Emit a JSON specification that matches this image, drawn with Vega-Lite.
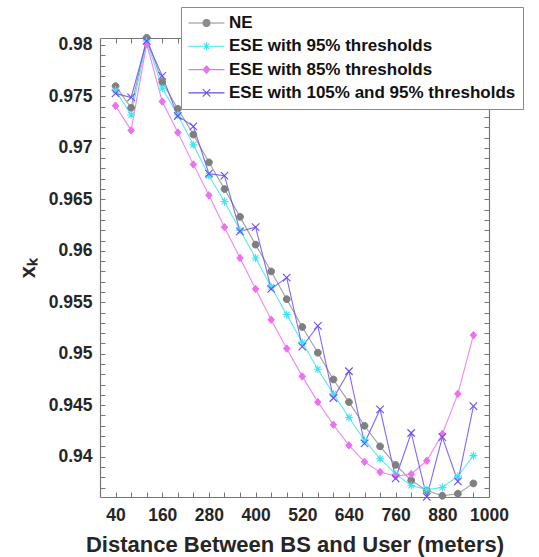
{
  "$schema": "https://vega.github.io/schema/vega-lite/v6.json",
  "width": 389,
  "height": 459,
  "autosize": "none",
  "padding": {"left": 100, "top": 38, "right": 50, "bottom": 60},
  "background": "white",
  "config": {
    "view": {"stroke": null},
    "font": "Liberation Sans",
    "axis": {
      "grid": false,
      "domainColor": "#777777",
      "domainWidth": 1.2,
      "tickColor": "#777777",
      "tickWidth": 1,
      "tickSize": -5,
      "labelFont": "Liberation Sans",
      "labelFontSize": 17.5,
      "labelFontWeight": "bold",
      "labelColor": "#262626",
      "titleFont": "Liberation Sans",
      "titleFontWeight": "bold",
      "titleColor": "#262626"
    }
  },
  "data": {
    "values": [
      {"d": 40, "NE": 0.9760, "ESE with 95% thresholds": 0.9756, "ESE with 85% thresholds": 0.9741, "ESE with 105% and 95% thresholds": 0.9753},
      {"d": 80, "NE": 0.9739, "ESE with 95% thresholds": 0.9732, "ESE with 85% thresholds": 0.9717, "ESE with 105% and 95% thresholds": 0.9749},
      {"d": 120, "NE": 0.9807, "ESE with 95% thresholds": 0.9804, "ESE with 85% thresholds": 0.9801, "ESE with 105% and 95% thresholds": 0.9804},
      {"d": 160, "NE": 0.9764, "ESE with 95% thresholds": 0.9758, "ESE with 85% thresholds": 0.9745, "ESE with 105% and 95% thresholds": 0.9770},
      {"d": 200, "NE": 0.9738, "ESE with 95% thresholds": 0.9732, "ESE with 85% thresholds": 0.9715, "ESE with 105% and 95% thresholds": 0.9731},
      {"d": 240, "NE": 0.9713, "ESE with 95% thresholds": 0.9703, "ESE with 85% thresholds": 0.9684, "ESE with 105% and 95% thresholds": 0.9721},
      {"d": 280, "NE": 0.9686, "ESE with 95% thresholds": 0.9673, "ESE with 85% thresholds": 0.9654, "ESE with 105% and 95% thresholds": 0.9675},
      {"d": 320, "NE": 0.9660, "ESE with 95% thresholds": 0.9648, "ESE with 85% thresholds": 0.9623, "ESE with 105% and 95% thresholds": 0.9673},
      {"d": 360, "NE": 0.9633, "ESE with 95% thresholds": 0.9620, "ESE with 85% thresholds": 0.9593, "ESE with 105% and 95% thresholds": 0.9619},
      {"d": 400, "NE": 0.9606, "ESE with 95% thresholds": 0.9593, "ESE with 85% thresholds": 0.9563, "ESE with 105% and 95% thresholds": 0.9623},
      {"d": 440, "NE": 0.9580, "ESE with 95% thresholds": 0.9565, "ESE with 85% thresholds": 0.9533, "ESE with 105% and 95% thresholds": 0.9563},
      {"d": 480, "NE": 0.9553, "ESE with 95% thresholds": 0.9538, "ESE with 85% thresholds": 0.9505, "ESE with 105% and 95% thresholds": 0.9574},
      {"d": 520, "NE": 0.9526, "ESE with 95% thresholds": 0.9511, "ESE with 85% thresholds": 0.9478, "ESE with 105% and 95% thresholds": 0.9507},
      {"d": 560, "NE": 0.9501, "ESE with 95% thresholds": 0.9485, "ESE with 85% thresholds": 0.9453, "ESE with 105% and 95% thresholds": 0.9527},
      {"d": 600, "NE": 0.9475, "ESE with 95% thresholds": 0.9461, "ESE with 85% thresholds": 0.9431, "ESE with 105% and 95% thresholds": 0.9457},
      {"d": 640, "NE": 0.9453, "ESE with 95% thresholds": 0.9438, "ESE with 85% thresholds": 0.9411, "ESE with 105% and 95% thresholds": 0.9483},
      {"d": 680, "NE": 0.9430, "ESE with 95% thresholds": 0.9416, "ESE with 85% thresholds": 0.9395, "ESE with 105% and 95% thresholds": 0.9413},
      {"d": 720, "NE": 0.9410, "ESE with 95% thresholds": 0.9398, "ESE with 85% thresholds": 0.9385, "ESE with 105% and 95% thresholds": 0.9446},
      {"d": 760, "NE": 0.9392, "ESE with 95% thresholds": 0.9383, "ESE with 85% thresholds": 0.9381, "ESE with 105% and 95% thresholds": 0.9379},
      {"d": 800, "NE": 0.9377, "ESE with 95% thresholds": 0.9372, "ESE with 85% thresholds": 0.9383, "ESE with 105% and 95% thresholds": 0.9423},
      {"d": 840, "NE": 0.9367, "ESE with 95% thresholds": 0.9368, "ESE with 85% thresholds": 0.9396, "ESE with 105% and 95% thresholds": 0.9361},
      {"d": 880, "NE": 0.9362, "ESE with 95% thresholds": 0.9370, "ESE with 85% thresholds": 0.9422, "ESE with 105% and 95% thresholds": 0.9419},
      {"d": 920, "NE": 0.9364, "ESE with 95% thresholds": 0.9381, "ESE with 85% thresholds": 0.9461, "ESE with 105% and 95% thresholds": 0.9376},
      {"d": 960, "NE": 0.9374, "ESE with 95% thresholds": 0.9401, "ESE with 85% thresholds": 0.9518, "ESE with 105% and 95% thresholds": 0.9449}
    ]
  },
  "transform": [
    {"fold": ["NE", "ESE with 95% thresholds", "ESE with 85% thresholds", "ESE with 105% and 95% thresholds"], "as": ["series", "v"]}
  ],
  "layer": [
    {
      "mark": {"type": "line", "strokeWidth": 1.1, "opacity": 0.85},
      "encoding": {
        "x": {
          "field": "d", "type": "quantitative",
          "scale": {"domain": [0, 1000], "nice": false, "zero": false},
          "axis": {
            "orient": "bottom",
            "values": [40, 80, 120, 160, 200, 240, 280, 320, 360, 400, 440, 480, 520, 560, 600, 640, 680, 720, 760, 800, 840, 880, 920, 960, 1000],
            "format": "d",
            "labelExpr": "(datum.value - 40) % 120 === 0 ? datum.label : ''",
            "labelPadding": 14.5,
            "labelFlush": false,
            "labelOverlap": false,
            "title": "Distance Between BS and User (meters)",
            "titleFontSize": 22,
            "titlePadding": 10
          }
        },
        "y": {
          "field": "v", "type": "quantitative",
          "scale": {"domain": [0.93608, 0.98068], "nice": false, "zero": false},
          "axis": {
            "orient": "left",
            "values": [0.937, 0.938, 0.939, 0.94, 0.941, 0.942, 0.943, 0.944, 0.945, 0.946, 0.947, 0.948, 0.949, 0.95, 0.951, 0.952, 0.953, 0.954, 0.955, 0.956, 0.957, 0.958, 0.959, 0.96, 0.961, 0.962, 0.963, 0.964, 0.965, 0.966, 0.967, 0.968, 0.969, 0.97, 0.971, 0.972, 0.973, 0.974, 0.975, 0.976, 0.977, 0.978, 0.979, 0.98],
            "labelExpr": "round(datum.value * 1000) % 5 === 0 ? format(datum.value, '~g') : ''",
            "labelPadding": 13,
            "labelFlush": false,
            "labelOverlap": false,
            "title": "xₖ",
            "titleFontSize": 22,
            "titlePadding": 9
          }
        },
        "color": {
          "field": "series", "type": "nominal",
          "scale": {
            "domain": ["NE", "ESE with 95% thresholds", "ESE with 85% thresholds", "ESE with 105% and 95% thresholds"],
            "range": ["#8c8c8c", "#3fe3f2", "#ec70f2", "#6b4df5"]
          },
          "legend": {
            "orient": "none",
            "legendX": 81,
            "legendY": -31,
            "title": null,
            "strokeColor": "#8a8a8a",
            "fillColor": "white",
            "padding": 7.5,
            "symbolSize": 100,
            "symbolStrokeWidth": 1.1,
            "symbolOpacity": 1,
            "symbolOffset": 9.5,
            "labelOffset": 14,
            "rowPadding": 5.3,
            "labelFont": "Liberation Sans",
            "labelFontSize": 17,
            "labelFontWeight": "bold",
            "labelColor": "#111111",
            "labelLimit": 400
          }
        }
      }
    },
    {
      "transform": [{"filter": {"field": "d", "equal": 40}}],
      "mark": {"type": "point", "filled": true, "size": 100, "strokeWidth": 1.1, "opacity": 0},
      "encoding": {
        "x": {"field": "d", "type": "quantitative", "axis": null},
        "y": {"field": "v", "type": "quantitative", "axis": null},
        "color": {"field": "series", "type": "nominal"},
        "stroke": {
          "field": "series", "type": "nominal",
          "scale": {
            "domain": ["NE", "ESE with 95% thresholds", "ESE with 85% thresholds", "ESE with 105% and 95% thresholds"],
            "range": ["#9a9a9a", "#3fe3f2", "#ec70f2", "#6b4df5"]
          },
          "legend": null
        },
        "shape": {
          "field": "series", "type": "nominal",
          "scale": {
            "domain": ["NE", "ESE with 95% thresholds", "ESE with 85% thresholds", "ESE with 105% and 95% thresholds"],
            "range": [
              "M-3.6,0L3.6,0M-0.68,0A0.68,0.68,0,1,0,0.68,0A0.68,0.68,0,1,0,-0.68,0Z",
              "M-3.6,0L3.6,0M-0.8,0L0.8,0M0,-0.8L0,0.8M-0.57,-0.57L0.57,0.57M-0.57,0.57L0.57,-0.57",
              "M-3.6,0L3.6,0M0,-0.75L0.65,0L0,0.75L-0.65,0Z",
              "M-3.6,0L3.6,0M-0.75,-0.75L0.75,0.75M-0.75,0.75L0.75,-0.75"
            ]
          },
          "legend": null
        }
      }
    },
    {
      "transform": [{"filter": {"field": "series", "equal": "NE"}}],
      "mark": {"type": "point", "shape": "M-0.68,0A0.68,0.68,0,1,0,0.68,0A0.68,0.68,0,1,0,-0.68,0Z", "filled": true, "fill": "#7f7f7f", "stroke": "#7f7f7f", "size": 100, "strokeWidth": 1, "opacity": 1},
      "encoding": {
        "x": {
          "field": "d", "type": "quantitative",
          "axis": {
            "orient": "top", "labels": false, "title": null,
            "values": [40, 80, 120, 160, 200, 240, 280, 320, 360, 400, 440, 480, 520, 560, 600, 640, 680, 720, 760, 800, 840, 880, 920, 960, 1000]
          }
        },
        "y": {
          "field": "v", "type": "quantitative",
          "axis": {
            "orient": "right", "labels": false, "title": null,
            "values": [0.937, 0.938, 0.939, 0.94, 0.941, 0.942, 0.943, 0.944, 0.945, 0.946, 0.947, 0.948, 0.949, 0.95, 0.951, 0.952, 0.953, 0.954, 0.955, 0.956, 0.957, 0.958, 0.959, 0.96, 0.961, 0.962, 0.963, 0.964, 0.965, 0.966, 0.967, 0.968, 0.969, 0.97, 0.971, 0.972, 0.973, 0.974, 0.975, 0.976, 0.977, 0.978, 0.979, 0.98]
          }
        }
      }
    },
    {
      "transform": [{"filter": {"field": "series", "equal": "ESE with 95% thresholds"}}],
      "mark": {"type": "point", "shape": "M-0.8,0L0.8,0M0,-0.8L0,0.8M-0.57,-0.57L0.57,0.57M-0.57,0.57L0.57,-0.57", "filled": false, "stroke": "#3fe3f2", "size": 100, "strokeWidth": 1.1, "opacity": 1},
      "encoding": {
        "x": {"field": "d", "type": "quantitative", "axis": null},
        "y": {"field": "v", "type": "quantitative", "axis": null}
      }
    },
    {
      "transform": [{"filter": {"field": "series", "equal": "ESE with 85% thresholds"}}],
      "mark": {"type": "point", "shape": "M0,-0.75L0.65,0L0,0.75L-0.65,0Z", "filled": true, "fill": "#ec70f2", "stroke": "#ec70f2", "size": 100, "strokeWidth": 1, "opacity": 1},
      "encoding": {
        "x": {"field": "d", "type": "quantitative", "axis": null},
        "y": {"field": "v", "type": "quantitative", "axis": null}
      }
    },
    {
      "transform": [{"filter": {"field": "series", "equal": "ESE with 105% and 95% thresholds"}}],
      "mark": {"type": "point", "shape": "M-0.75,-0.75L0.75,0.75M-0.75,0.75L0.75,-0.75", "filled": false, "stroke": "#6b4df5", "size": 100, "strokeWidth": 1.1, "opacity": 1},
      "encoding": {
        "x": {"field": "d", "type": "quantitative", "axis": null},
        "y": {"field": "v", "type": "quantitative", "axis": null}
      }
    }
  ],
  "resolve": {"axis": {"x": "independent", "y": "independent"}}
}
